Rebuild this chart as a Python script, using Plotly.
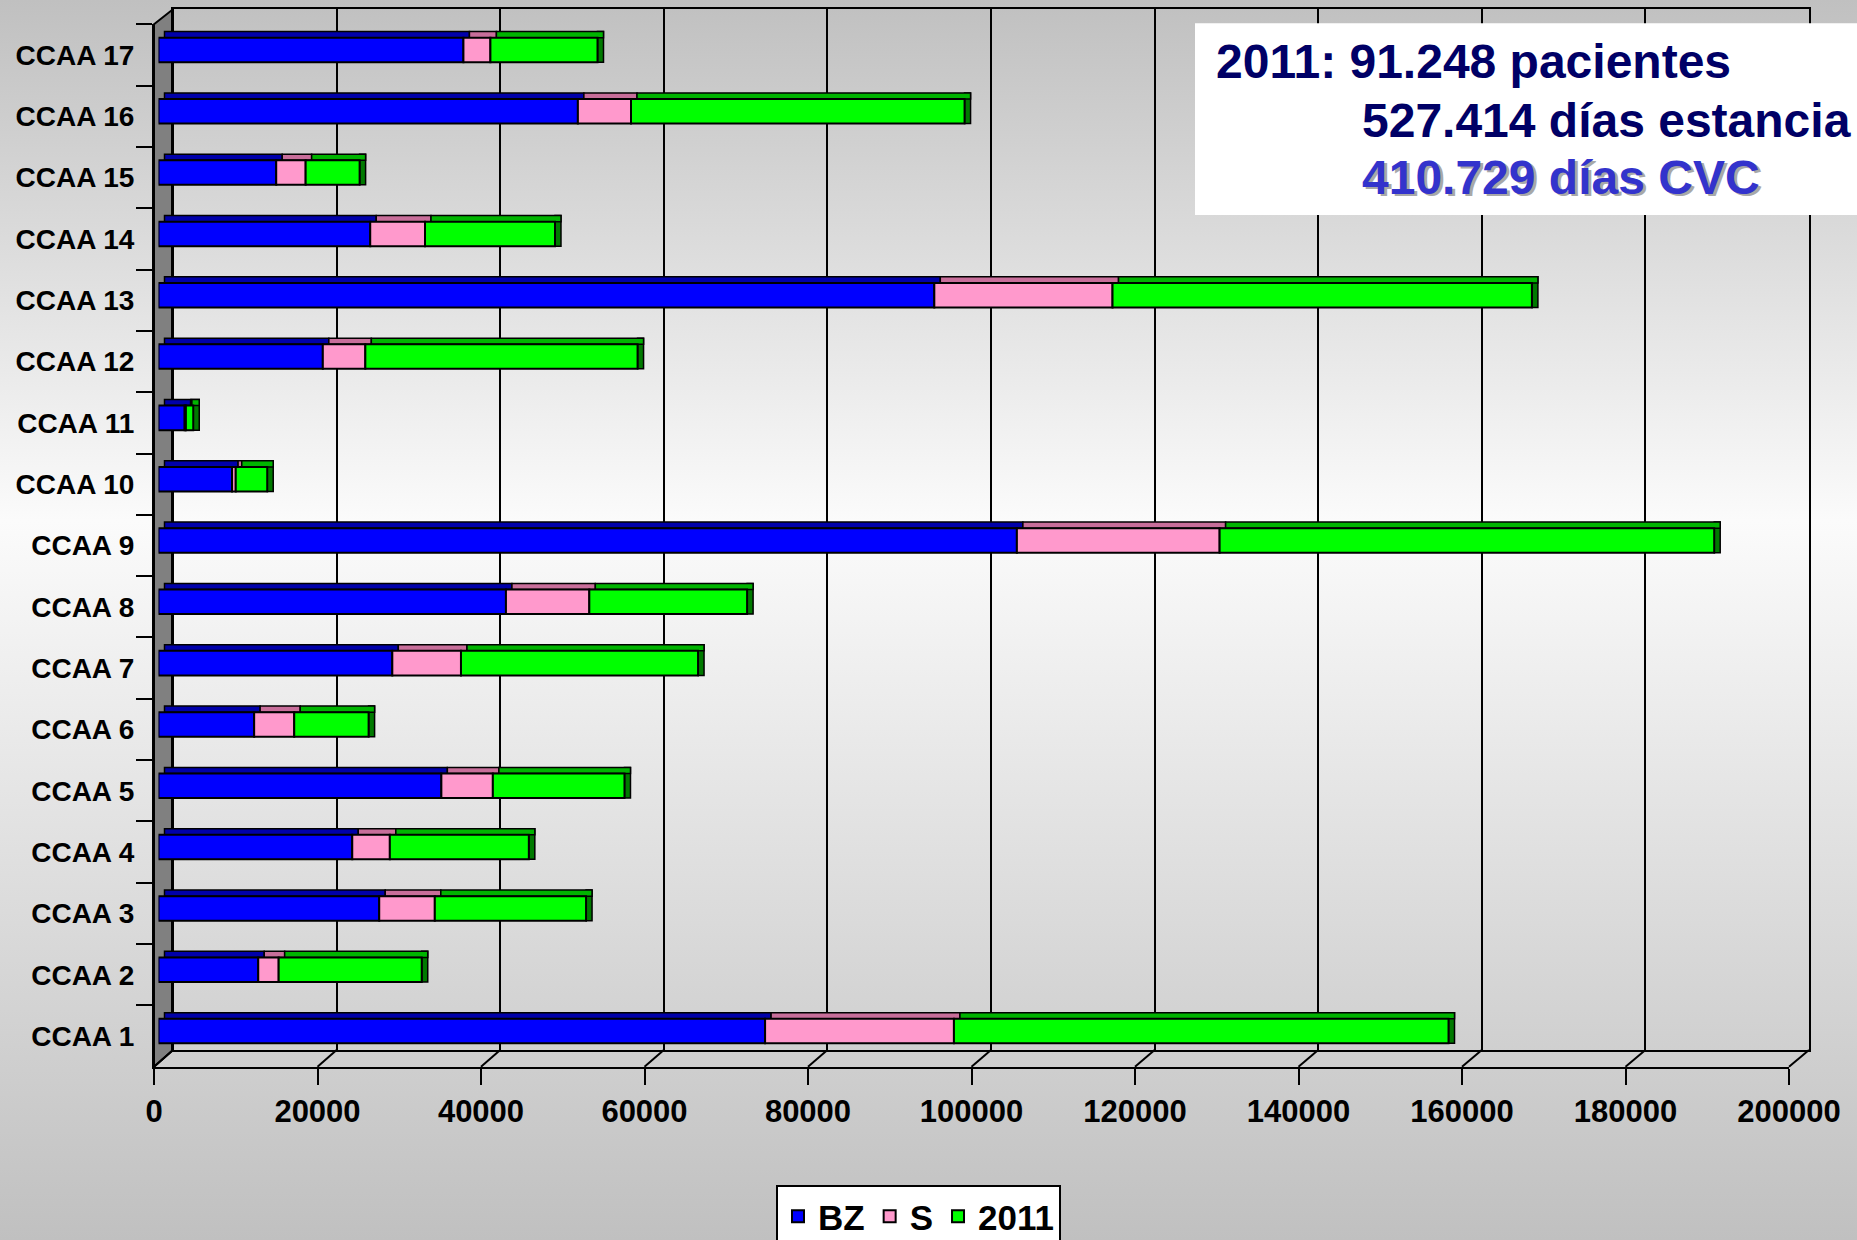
import base64
import plotly.graph_objects as go

# ---------------- data ----------------
categories = ["CCAA 1", "CCAA 2", "CCAA 3", "CCAA 4", "CCAA 5", "CCAA 6", "CCAA 7",
              "CCAA 8", "CCAA 9", "CCAA 10", "CCAA 11", "CCAA 12", "CCAA 13",
              "CCAA 14", "CCAA 15", "CCAA 16", "CCAA 17"]
bz_values = [74200, 12200, 27000, 23700, 34600, 11700, 28600, 42500, 105000,
             9000, 3200, 20100, 94900, 25900, 14400, 51300, 37300]
s_values = [23100, 2500, 6800, 4600, 6300, 4900, 8400, 10200, 24800,
            450, 150, 5200, 21800, 6700, 3600, 6500, 3300]
y2011_values = [60500, 17500, 18500, 17000, 16100, 9100, 29000, 19300, 60500,
                3850, 900, 33300, 51300, 15900, 6600, 40800, 13100]
series_names = ["BZ", "S", "2011"]
x_tick_values = [0, 20000, 40000, 60000, 80000, 100000, 120000, 140000, 160000, 180000, 200000]
x_max = 200000
info_lines = ["2011: 91.248 pacientes", "527.414 días estancia", "410.729 días CVC"]

# ---------------- styling ----------------
W, H = 1857, 1240
FONT = "Liberation Sans, Arial, sans-serif"
face_colors = ["#0000FF", "#FF99CC", "#00FF00"]
top_colors = ["#0000AA", "#C86E9A", "#00B400"]
end_color = "#007A00"


def px_x(x):
    return x / W


def px_y(y):
    return 1 - y / H


# pixel frames of the pseudo-3D box
BACK = dict(x0=173, x1=1809, y0=9.3, y1=1050)
FRONT = dict(x0=154, x1=1789, y0=24.3, y1=1066.7)
BARS = dict(x0=158.5, x1=1793.5, y0=19.3, y1=1061.7)

units_per_px = x_max / (BARS["x1"] - BARS["x0"])
depth = 6 * units_per_px

s_base = [b for b in bz_values]
g_base = [b + s for b, s in zip(bz_values, s_values)]
totals = [g + v for g, v in zip(g_base, y2011_values)]
series = [(bz_values, [0] * len(bz_values)), (s_values, s_base), (y2011_values, g_base)]

fig = go.Figure()

# invisible carriers so that the back wall and the front axes get drawn
for xa, ya in (("x", "y"), ("x3", "y3")):
    fig.add_trace(go.Scatter(
        x=totals, y=categories, mode="markers", marker=dict(opacity=0, size=1),
        showlegend=False, hoverinfo="skip", xaxis=xa, yaxis=ya))

# end faces of each bar (dark side)
fig.add_trace(go.Bar(
    y=categories, x=[depth] * len(categories), base=totals, orientation="h",
    width=0.5, offset=-0.2, marker=dict(color=end_color, line=dict(color="black", width=1.5)),
    showlegend=False, hoverinfo="skip", xaxis="x2", yaxis="y2"))

# top faces
for (vals, base), col in zip(series, top_colors):
    fig.add_trace(go.Bar(
        y=categories, x=vals, base=[b + depth for b in base], orientation="h",
        width=0.1, offset=0.2, marker=dict(color=col, line=dict(color="black", width=1.5)),
        showlegend=False, hoverinfo="skip", xaxis="x2", yaxis="y2"))

# front faces
for (vals, base), col, name in zip(series, face_colors, series_names):
    fig.add_trace(go.Bar(
        y=categories, x=vals, base=base, orientation="h", name=name,
        width=0.4, offset=-0.2, marker=dict(color=col, line=dict(color="black", width=2)),
        xaxis="x2", yaxis="y2"))

# background gradient
svg = (f'<svg xmlns="http://www.w3.org/2000/svg" width="{W}" height="{H}" '
       f'viewBox="0 0 {W} {H}" preserveAspectRatio="none"><defs>'
       '<linearGradient id="g" x1="0" y1="0" x2="0" y2="1">'
       '<stop offset="0" stop-color="#c0c0c0"/>'
       '<stop offset="0.42" stop-color="#fbfbfb"/>'
       '<stop offset="1" stop-color="#c0c0c0"/>'
       '</linearGradient></defs>'
       f'<rect width="{W}" height="{H}" fill="url(#g)"/></svg>')
bg_src = "data:image/svg+xml;base64," + base64.b64encode(svg.encode()).decode()

shapes = []
# side wall
shapes.append(dict(
    type="path", xref="paper", yref="paper", layer="below",
    path=(f"M {px_x(FRONT['x0'])},{px_y(FRONT['y0'])} L {px_x(BACK['x0'])},{px_y(BACK['y0'])} "
          f"L {px_x(BACK['x0'])},{px_y(BACK['y1'])} L {px_x(FRONT['x0'])},{px_y(FRONT['y1'])} Z"),
    fillcolor="#808080", line=dict(color="black", width=2)))
# floor diagonals at each tick
for v in x_tick_values:
    fx = FRONT["x0"] + v / x_max * (FRONT["x1"] - FRONT["x0"])
    bx = BACK["x0"] + v / x_max * (BACK["x1"] - BACK["x0"])
    shapes.append(dict(type="line", xref="paper", yref="paper", layer="below",
                       x0=px_x(fx), y0=px_y(FRONT["y1"]), x1=px_x(bx), y1=px_y(BACK["y1"]),
                       line=dict(color="black", width=2)))
# info box
shapes.append(dict(type="rect", xref="paper", yref="paper", layer="above",
                   x0=px_x(1195), x1=1.0, y0=px_y(215), y1=px_y(23.3),
                   fillcolor="white", line=dict(width=0)))

annotations = [
    dict(text=f"<b>{info_lines[0]}</b>", x=px_x(1214), y=px_y(61.5), xref="paper", yref="paper",
         xanchor="left", yanchor="middle", showarrow=False,
         font=dict(family=FONT, size=48, color="#000066")),
    dict(text=f"<b>{info_lines[1]}</b>", x=px_x(1360), y=px_y(120), xref="paper", yref="paper",
         xanchor="left", yanchor="middle", showarrow=False,
         font=dict(family=FONT, size=48, color="#000066")),
    dict(text=f"<b>{info_lines[2]}</b>", x=px_x(1362.5), y=px_y(180), xref="paper", yref="paper",
         xanchor="left", yanchor="middle", showarrow=False,
         font=dict(family=FONT, size=48, color="#A8A8A8")),
    dict(text=f"<b>{info_lines[2]}</b>", x=px_x(1360), y=px_y(177.5), xref="paper", yref="paper",
         xanchor="left", yanchor="middle", showarrow=False,
         font=dict(family=FONT, size=48, color="#3333CC")),
]

hidden = dict(showgrid=False, zeroline=False, showticklabels=False, ticks="", showline=False,
              automargin=False)

fig.update_layout(
    template="none",
    width=W, height=H, autosize=False,
    margin=dict(l=0, r=0, t=0, b=0, pad=0, autoexpand=False),
    paper_bgcolor="#c8c8c8", plot_bgcolor="rgba(0,0,0,0)",
    barmode="overlay",
    font=dict(family=FONT, color="black"),
    images=[dict(source=bg_src, xref="paper", yref="paper", x=0, y=1, sizex=1, sizey=1,
                 xanchor="left", yanchor="top", sizing="stretch", layer="below")],
    shapes=shapes,
    annotations=annotations,
    # back wall with gridlines
    xaxis=dict(domain=[px_x(BACK["x0"]), px_x(BACK["x1"])], range=[0, x_max],
               tickvals=x_tick_values, showticklabels=False, ticks="", automargin=False,
               showgrid=True, gridcolor="black", gridwidth=2, zeroline=False,
               showline=True, mirror=True, linecolor="black", linewidth=2, anchor="y"),
    yaxis=dict(domain=[px_y(BACK["y1"]), px_y(BACK["y0"])], range=[-0.5, 16.5], type="category",
               categoryorder="array", categoryarray=categories, automargin=False,
               showgrid=False, zeroline=False, showticklabels=False, ticks="",
               showline=True, mirror=True, linecolor="black", linewidth=2, anchor="x"),
    # bars
    xaxis2=dict(domain=[px_x(BARS["x0"]), px_x(BARS["x1"])], range=[0, x_max], anchor="y2", **hidden),
    yaxis2=dict(domain=[px_y(BARS["y1"]), px_y(BARS["y0"])], range=[-0.5, 16.5], type="category",
                categoryorder="array", categoryarray=categories, anchor="x2", **hidden),
    # front axes
    xaxis3=dict(domain=[px_x(FRONT["x0"]), px_x(FRONT["x1"])], range=[0, x_max], anchor="y3",
                tickvals=x_tick_values, ticktext=[str(v) for v in x_tick_values],
                ticks="outside", ticklen=16, tickwidth=2, tickcolor="black", automargin=False,
                tickfont=dict(family=FONT, size=31, color="black", weight="bold"),
                showgrid=False, zeroline=False, showline=True, linecolor="black", linewidth=2),
    yaxis3=dict(domain=[px_y(FRONT["y1"]), px_y(FRONT["y0"])], range=[-0.5, 16.5], anchor="x3",
                type="category", categoryorder="array", categoryarray=categories,
                tickson="boundaries", ticks="outside", ticklen=16, tickwidth=2, tickcolor="black",
                tickfont=dict(family=FONT, size=28, color="black", weight="bold"),
                ticklabelstandoff=12, automargin=False,
                showgrid=False, zeroline=False, showline=True, linecolor="black", linewidth=2),
    legend=dict(orientation="h", x=px_x(776), y=px_y(1185), xanchor="left", yanchor="top",
                bgcolor="white", bordercolor="black", borderwidth=2,
                font=dict(family=FONT, size=35, color="black", weight="bold"),
                traceorder="normal", itemclick=False, itemdoubleclick=False),
)

fig.write_html("out.html", post_script="document.body.style.margin='0';",
               config={"displayModeBar": False, "responsive": False})
